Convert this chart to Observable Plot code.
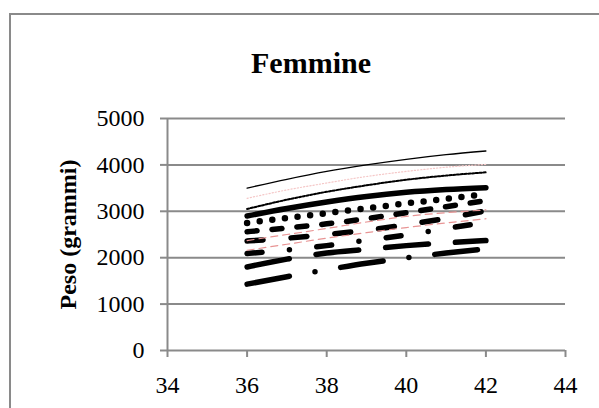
<!DOCTYPE html>
<html>
<head>
<meta charset="utf-8">
<script src="https://cdn.jsdelivr.net/npm/d3@7"></script>
<script src="https://cdn.jsdelivr.net/npm/@observablehq/plot@0.6"></script>
<style>
  html, body { margin: 0; padding: 0; background: #fff; }
  #wrap { position: relative; width: 599px; height: 408px; overflow: hidden; }
  #border { position: absolute; left: 9px; top: 13px; width: 700px; height: 500px;
            border-left: 2px solid #8a8a8a; border-top: 2px solid #8a8a8a; }
  #title { position: absolute; left: 211px; width: 200px; top: 46px; text-align: center;
           font-family: "Liberation Serif", "DejaVu Serif", serif; font-weight: bold; font-size: 30px; color: #000; }
  #chart { position: absolute; left: 0; top: 0; }
  #chart svg { font-family: "Liberation Serif", "DejaVu Serif", serif !important; }
</style>
</head>
<body>
<div id="wrap">
  <div id="border"></div>
  <div id="title">Femmine</div>
  <div id="chart"></div>
</div>
<script>
const weeks = [36, 37, 38, 39, 40, 41, 42];
const xTicks = [34, 36, 38, 40, 42, 44];
const yTicks = [0, 1000, 2000, 3000, 4000, 5000];

const thinSolid    = [3500, 3690, 3860, 4000, 4120, 4220, 4300];
const pinkDotted   = [3280, 3460, 3610, 3750, 3860, 3950, 4010];
const squareDotted = [3050, 3250, 3420, 3560, 3680, 3770, 3840];
const thickSolid   = [2900, 3060, 3200, 3320, 3410, 3470, 3510];
const roundDots    = [2750, 2855, 2960, 3065, 3170, 3270, 3370];
const dashA        = [2560, 2640, 2730, 2840, 2970, 3100, 3230];
const dashB        = [2360, 2420, 2500, 2590, 2710, 2850, 3010];
const pinkDashedHi = [2370, 2500, 2630, 2770, 2890, 2970, 3030];
const pinkDashedLo = [2160, 2290, 2420, 2540, 2650, 2750, 2840];
const dashDot      = [2090, 2165, 2260, 2375, 2490, 2630, 2760];
const longDash     = [1800, 1970, 2100, 2180, 2260, 2320, 2370];
const longDashDot  = [1430, 1590, 1740, 1880, 1995, 2100, 2190];

const rows = (vals) => weeks.map((w, i) => ({week: w, peso: vals[i]}));
const line = (vals, opts) => Plot.line(rows(vals), {x: "week", y: "peso", curve: "monotone-x", ...opts});
const fmt = (d) => String(d);

const chart = Plot.plot({
  width: 599,
  height: 408,
  marginLeft: 167,
  marginRight: 34,
  marginTop: 118,
  marginBottom: 58,
  style: {fontFamily: "'Liberation Serif', 'DejaVu Serif', serif", fontSize: "24px", color: "#000", background: "transparent"},
  x: {domain: [34, 44]},
  y: {domain: [0, 5000]},
  marks: [
    Plot.gridY(yTicks, {stroke: "#8a8a8a", strokeOpacity: 1, strokeWidth: 2}),
    Plot.ruleX([34], {stroke: "#8a8a8a", strokeWidth: 2}),
    Plot.axisX(xTicks, {tickSize: 7, tickPadding: 18, stroke: "#8a8a8a", strokeWidth: 2, label: null, fontSize: 24, tickFormat: fmt}),
    Plot.axisY(yTicks, {tickSize: 7, tickPadding: 16, stroke: "#8a8a8a", strokeWidth: 2, label: null, fontSize: 24, tickFormat: fmt}),
    Plot.axisY([], {label: "Peso (grammi)", labelAnchor: "center", labelArrow: "none", labelOffset: 109, fontWeight: "bold", fontSize: 24, tickSize: 0}),

    line(thinSolid,    {stroke: "#000", strokeWidth: 1.3}),
    line(squareDotted, {stroke: "#000", strokeWidth: 2, strokeDasharray: "2.2,1.6"}),
    line(thickSolid,   {stroke: "#000", strokeWidth: 5.5}),
    line(roundDots,    {stroke: "#000", strokeWidth: 6.5, strokeDasharray: "0,12.7", strokeLinecap: "round"}),
    line(dashA,        {stroke: "#000", strokeWidth: 5.5, strokeDasharray: "10,15", strokeLinecap: "round"}),
    line(dashB,        {stroke: "#000", strokeWidth: 5.5, strokeDasharray: "16,28", strokeLinecap: "round"}),
    line(dashDot,      {stroke: "#000", strokeWidth: 5.5, strokeDasharray: "15,27.5,0,27.5", strokeLinecap: "round"}),
    line(longDash,     {stroke: "#000", strokeWidth: 5.5, strokeDasharray: "43,27", strokeLinecap: "round"}),
    line(longDashDot,  {stroke: "#000", strokeWidth: 5.5, strokeDasharray: "43,26,0,26", strokeLinecap: "round"}),

    line(pinkDotted,   {stroke: "#f5c8c8", strokeWidth: 1.2, strokeDasharray: "1.2,2"}),
    line(pinkDashedHi, {stroke: "#e89494", strokeWidth: 1.2, strokeDasharray: "7,5"}),
    line(pinkDashedLo, {stroke: "#e89494", strokeWidth: 1.2, strokeDasharray: "7,5"})
  ]
});
document.getElementById("chart").appendChild(chart);
</script>
</body>
</html>
